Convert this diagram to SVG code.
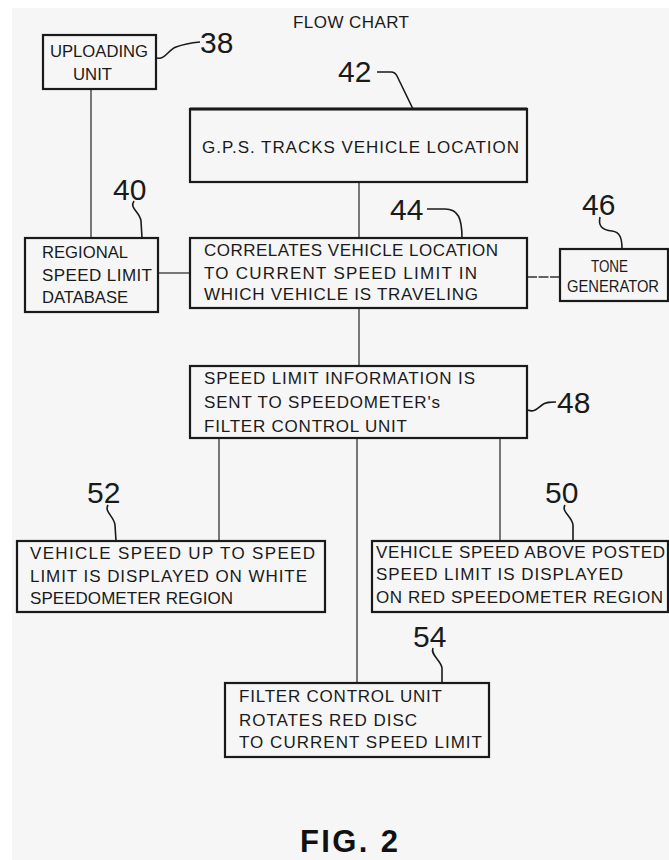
<svg xmlns="http://www.w3.org/2000/svg" width="669" height="860" viewBox="0 0 669 860">
<style>
.bg{fill:#f6f6f6}
.box{fill:none;stroke:#1a1a1a;stroke-width:2.2}
.t{font-family:"Liberation Sans",Arial,sans-serif;font-size:17px;fill:#1a1a1a}
.n{font-family:"Liberation Sans",Arial,sans-serif;font-size:30px;fill:#1a1a1a}
.c{stroke:#333;stroke-width:1.3;fill:none}
.ld{stroke:#1a1a1a;stroke-width:1.6;fill:none}
</style>
<rect x="0" y="0" width="669" height="860" fill="#ffffff"/>
<rect class="bg" x="12" y="8" width="657" height="852"/>
<text class="t" x="293" y="28" textLength="116" lengthAdjust="spacing">FLOW CHART</text>
<g id="connectors">
<line class="c" x1="91" y1="89" x2="91" y2="238"/>
<line class="c" x1="359" y1="182" x2="359" y2="238"/>
<line class="c" x1="158" y1="273" x2="190" y2="273"/>
<line class="c" x1="527" y1="277" x2="560" y2="277" stroke-dasharray="10 1.5" stroke-width="1"/>
<line class="c" x1="359" y1="308" x2="359" y2="366"/>
<line class="c" x1="219" y1="438" x2="219" y2="541"/>
<line class="c" x1="357" y1="438" x2="357" y2="683"/>
<line class="c" x1="500" y1="438" x2="500" y2="541"/>
</g>
<g id="n38">
<rect class="box" x="43" y="35" width="113" height="54"/>
<text class="t" x="50" y="57" textLength="98" lengthAdjust="spacingAndGlyphs">UPLOADING</text>
<text class="t" x="73" y="80" textLength="39" lengthAdjust="spacingAndGlyphs">UNIT</text>
<path class="ld" d="M157,58 C165,60 168,50 176,47 S190,43 200,42"/>
<text class="n" x="200" y="53">38</text>
</g>
<g id="n42">
<rect class="box" x="190" y="109" width="337" height="73"/>
<line x1="190" y1="109" x2="527" y2="109" stroke="#1a1a1a" stroke-width="3"/>
<text class="t" x="202" y="153" textLength="317" lengthAdjust="spacing">G.P.S.  TRACKS  VEHICLE  LOCATION</text>
<path class="ld" d="M377,72 L391,72 Q395,72 397,76 L413,109"/>
<text class="n" x="338" y="82">42</text>
</g>
<g id="n40">
<rect class="box" x="25" y="238" width="133" height="74"/>
<text class="t" x="42" y="258" textLength="86" lengthAdjust="spacingAndGlyphs">REGIONAL</text>
<text class="t" x="42" y="281" textLength="110" lengthAdjust="spacing">SPEED LIMIT</text>
<text class="t" x="42" y="303" textLength="86" lengthAdjust="spacingAndGlyphs">DATABASE</text>
<path class="ld" d="M134,201 C129,208 140,212 141,221 L142,238"/>
<text class="n" x="113" y="200">40</text>
</g>
<g id="n44">
<rect class="box" x="190" y="238" width="337" height="70"/>
<text class="t" x="204" y="256" textLength="294" lengthAdjust="spacing">CORRELATES VEHICLE LOCATION</text>
<text class="t" x="204" y="279" textLength="273" lengthAdjust="spacing">TO CURRENT SPEED LIMIT IN</text>
<text class="t" x="204" y="300" textLength="274" lengthAdjust="spacing">WHICH VEHICLE IS TRAVELING</text>
<path class="ld" d="M427,209 L445,209 C458,209 462,218 462,238"/>
<text class="n" x="390" y="220">44</text>
</g>
<g id="n46">
<rect class="box" x="560" y="249" width="108" height="52" stroke-width="1.6"/>
<text class="t" x="591" y="272" textLength="37" lengthAdjust="spacingAndGlyphs">TONE</text>
<text class="t" x="567" y="292" font-size="15" textLength="92" lengthAdjust="spacingAndGlyphs">GENERATOR</text>
<path class="ld" d="M600,217 C598,226 602,230 612,231 C620,232 622,238 622,249"/>
<text class="n" x="582" y="215">46</text>
</g>
<g id="n48">
<rect class="box" x="190" y="366" width="337" height="72"/>
<text class="t" x="204" y="384" textLength="271" lengthAdjust="spacing">SPEED LIMIT INFORMATION IS</text>
<text class="t" x="204" y="408" textLength="236" lengthAdjust="spacing">SENT TO SPEEDOMETER's</text>
<text class="t" x="204" y="432" textLength="203" lengthAdjust="spacing">FILTER CONTROL UNIT</text>
<path class="ld" d="M528,410 C534,413 538,408 542,405 S550,402 556,402"/>
<text class="n" x="557" y="413">48</text>
</g>
<g id="n52">
<rect class="box" x="17" y="541" width="308" height="71"/>
<text class="t" x="30" y="559" textLength="285" lengthAdjust="spacing">VEHICLE SPEED UP TO SPEED</text>
<text class="t" x="30" y="582" textLength="277" lengthAdjust="spacing">LIMIT IS DISPLAYED ON WHITE</text>
<text class="t" x="30" y="604" textLength="203" lengthAdjust="spacing">SPEEDOMETER REGION</text>
<path class="ld" d="M108,505 C104,512 114,516 115,525 L116,541"/>
<text class="n" x="87" y="503">52</text>
</g>
<g id="n50">
<rect class="box" x="372" y="541" width="296" height="71"/>
<text class="t" x="376" y="558" textLength="289" lengthAdjust="spacing">VEHICLE SPEED ABOVE POSTED</text>
<text class="t" x="376" y="580" textLength="247" lengthAdjust="spacing">SPEED LIMIT IS DISPLAYED</text>
<text class="t" x="376" y="603" textLength="287" lengthAdjust="spacing">ON RED SPEEDOMETER REGION</text>
<path class="ld" d="M565,505 C561,512 572,516 573,525 L573,541"/>
<text class="n" x="545" y="503">50</text>
</g>
<g id="n54">
<rect class="box" x="225" y="683" width="264" height="74"/>
<text class="t" x="239" y="702" textLength="203" lengthAdjust="spacing">FILTER CONTROL UNIT</text>
<text class="t" x="239" y="726" textLength="178" lengthAdjust="spacing">ROTATES RED DISC</text>
<text class="t" x="239" y="748" textLength="243" lengthAdjust="spacing">TO CURRENT SPEED LIMIT</text>
<path class="ld" d="M433,648 C430,655 441,660 442,668 L442,683"/>
<text class="n" x="413" y="647">54</text>
</g>
<text x="300" y="852" font-family="Liberation Sans,Arial,sans-serif" font-size="31" font-weight="bold" fill="#111" textLength="98" lengthAdjust="spacing">FIG. 2</text>
</svg>
